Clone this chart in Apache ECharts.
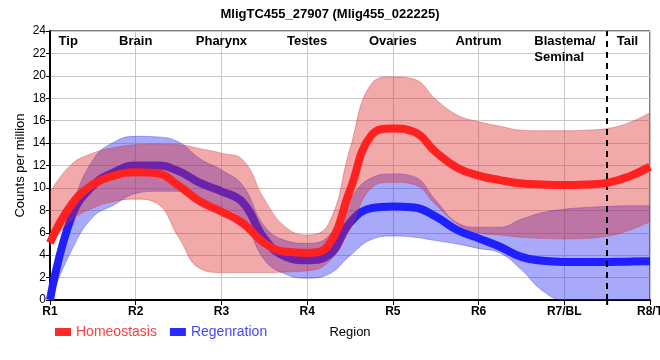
<!DOCTYPE html>
<html><head><meta charset="utf-8">
<script src="https://cdn.jsdelivr.net/npm/echarts@6/dist/echarts.min.js"></script>
<style>html,body{margin:0;padding:0;background:#fff}#c{width:660px;height:360px}</style>
</head><body><div id="c"></div>
<script>
// Region tick labels (shown at positions 1..8)
const regionTicks = ['R1', 'R2', 'R3', 'R4', 'R5', 'R6', 'R7/BL', 'R8/T'];
// Anatomical region names shown at the top of the plot
const regionNames = ['Tip', 'Brain', 'Pharynx', 'Testes', 'Ovaries', 'Antrum', 'Blastema/\nSeminal', 'Tail'];
const regionNameAt = ['1.25', '2', '3', '4', '5', '6', '7', '7.75'];
const boundaryAt = '7.5';

// Sample positions along the body axis (region index)
const xPos = ['1', '1.25', '1.5', '1.75', '2', '2.25', '2.5', '2.75', '3', '3.25', '3.5', '3.75', '4', '4.25', '4.5', '4.75', '5', '5.25', '5.5', '5.75', '6', '6.25', '6.5', '6.75', '7', '7.25', '7.5', '7.75', '8'];

// Homeostasis (counts per million)
const homeoMean  = [5.1, 8.5, 10.3, 11.1, 11.4, 11.3, 10.2, 8.8, 7.9, 6.85, 5.1, 4.3, 4.2, 4.9, 9.8, 14.7, 15.3, 15.0, 13.2, 11.8, 11.1, 10.7, 10.4, 10.3, 10.25, 10.3, 10.45, 11.0, 11.9];
const homeoUpper = [9.6, 12.1, 13.1, 13.6, 13.85, 13.9, 13.85, 13.5, 13.1, 12.5, 9.0, 6.5, 5.8, 6.8, 13.5, 19.3, 19.9, 19.7, 17.9, 16.5, 15.9, 15.5, 15.15, 15.1, 15.1, 15.15, 15.3, 15.8, 16.7];
const homeoLower = [4.9, 7.1, 8.2, 8.8, 9.0, 8.6, 5.6, 2.8, 2.45, 2.45, 2.45, 2.5, 2.6, 3.4, 6.3, 10.0, 10.5, 10.3, 8.5, 6.8, 6.0, 5.8, 5.6, 5.5, 5.45, 5.5, 5.7, 6.2, 7.0];

// Regeneration (counts per million)
const regenMean  = [0, 7.4, 10.2, 11.4, 12.0, 12.0, 11.5, 10.45, 9.7, 8.7, 5.5, 3.85, 3.55, 4.0, 6.9, 8.2, 8.35, 8.25, 7.45, 6.25, 5.5, 4.75, 3.85, 3.5, 3.4, 3.4, 3.4, 3.42, 3.45];
const regenUpper = [0.5, 8.0, 12.5, 14.1, 14.6, 14.55, 14.1, 12.6, 11.6, 10.2, 6.6, 5.3, 5.05, 5.7, 9.0, 10.9, 11.25, 11.0, 8.9, 6.9, 6.5, 6.5, 7.2, 7.8, 8.1, 8.25, 8.35, 8.4, 8.4];
const regenLower = [0, 4.4, 7.4, 8.5, 9.5, 9.7, 9.7, 9.1, 8.35, 7.2, 3.6, 2.3, 1.95, 2.3, 3.95, 5.4, 5.7, 5.6, 5.3, 5.0, 4.6, 4.2, 2.7, 0.8, 0, 0, 0, 0, 0];

const FONT = 'Liberation Sans, Arial, sans-serif';
const diff = (a, b) => a.map((v, i) => +(v - b[i]).toFixed(3));

const SM = 0.45;
function bandSeries(name, lower, upper, fill, edge, z) {
  return [
    { name: name + 'Low', type: 'line', stack: name, data: lower, smooth: SM, symbol: 'none', z: z,
      lineStyle: { width: 1, color: edge }, silent: true },
    { name: name + 'Band', type: 'line', stack: name, data: diff(upper, lower), smooth: SM, symbol: 'none', z: z,
      lineStyle: { width: 1, color: edge }, areaStyle: { color: fill, opacity: 1 }, silent: true }
  ];
}

const chart = echarts.init(document.getElementById('c'), null, { renderer: 'canvas' });
chart.setOption({
  animation: false,
  title: { text: 'MligTC455_27907 (Mlig455_022225)', left: 'center', top: 3,
    textStyle: { fontFamily: FONT, fontSize: 13, fontWeight: 'bold', color: '#000' } },
  grid: { left: 50, right: 10, top: 31, bottom: 60, show: true, borderColor: '#000', borderWidth: 1,
    containLabel: false, outerBoundsMode: 'none' },
  legend: {
    left: 55, top: 325, padding: 0, itemWidth: 16, itemHeight: 8, itemGap: 13, icon: 'rect',
    textStyle: { fontFamily: FONT, fontSize: 14 },
    data: [
      { name: 'Homeostasis', textStyle: { color: '#ff3d3d' }, itemStyle: { color: '#ff2a2a' } },
      { name: 'Regenration', textStyle: { color: '#4545ff' }, itemStyle: { color: '#2a2aff' } }
    ]
  },
  xAxis: {
    type: 'category', data: xPos, boundaryGap: false,
    name: 'Region', nameLocation: 'middle', nameGap: 26, nameMoveOverlap: false,
    nameTextStyle: { fontFamily: FONT, fontSize: 13, color: '#000' },
    axisLine: { lineStyle: { color: '#000', width: 2 } },
    axisTick: { show: true, interval: 3, length: 5, lineStyle: { color: '#000', width: 1 } },
    axisLabel: { interval: 3, fontFamily: FONT, fontSize: 12, fontWeight: 'bold', color: '#000', margin: 6,
      formatter: v => regionTicks[Math.round(+v) - 1] || '' },
    splitLine: { show: true, interval: 3, lineStyle: { color: '#c8c8c8', width: 1 } }
  },
  yAxis: {
    type: 'value', min: 0, max: 24, interval: 2,
    name: 'Counts per million', nameLocation: 'middle', nameGap: 23, nameMoveOverlap: false,
    nameTextStyle: { fontFamily: FONT, fontSize: 13, color: '#000' },
    axisLine: { show: true, lineStyle: { color: '#000', width: 2 } },
    axisTick: { show: true, length: 4, lineStyle: { color: '#000' } },
    axisLabel: { fontFamily: FONT, fontSize: 12, color: '#000', margin: 4 },
    splitLine: { show: true, lineStyle: { color: '#c8c8c8', width: 1 } }
  },
  series: [
    ...bandSeries('regen', regenLower, regenUpper, 'rgba(40,40,240,0.4)', 'rgba(40,40,240,0.35)', 2),
    { name: 'Regenration', type: 'line', data: regenMean, smooth: SM, symbol: 'none', z: 3,
      itemStyle: { color: '#2020ff' }, lineStyle: { width: 8, color: '#2020ff' } },
    ...bandSeries('homeo', homeoLower, homeoUpper, 'rgba(220,40,40,0.4)', 'rgba(210,40,40,0.35)', 4),
    { name: 'Homeostasis', type: 'line', data: homeoMean, smooth: SM, symbol: 'none', z: 5,
      itemStyle: { color: '#ff2020' }, lineStyle: { width: 8, color: '#ff2020' },
      markLine: { silent: true, symbol: ['none', 'none'], label: { show: false },
        lineStyle: { color: '#000', width: 2, type: [6, 5] },
        data: [{ xAxis: boundaryAt }] } }
  ]
});

// Region names along the top, and the small tick at the boundary
const yTop = chart.convertToPixel({ gridIndex: 0 }, ['1', 24])[1];
const yBot = chart.convertToPixel({ gridIndex: 0 }, ['1', 0])[1];
const step = chart.convertToPixel({ gridIndex: 0 }, ['1.25', 0])[0] - chart.convertToPixel({ gridIndex: 0 }, ['1', 0])[0];
const graphics = regionNames.map((t, i) => {
  let px = chart.convertToPixel({ gridIndex: 0 }, [regionNameAt[i], 24])[0];
  const multi = t.indexOf('\n') >= 0;
  if (i === 0) px -= step * 0.15;
  if (i === regionNames.length - 1) px -= step * 0.05;
  return { type: 'text', z: 100,
    x: multi ? px - 30 : px, y: yTop + 2,
    style: { text: t, fill: '#000', font: 'bold 13px ' + FONT,
      textAlign: multi ? 'left' : 'center', textVerticalAlign: 'top', lineHeight: 16 } };
});
const bx = chart.convertToPixel({ gridIndex: 0 }, [boundaryAt, 0])[0];
graphics.push({ type: 'line', z: 100, shape: { x1: bx, y1: yBot, x2: bx, y2: yBot + 5 },
  style: { stroke: '#000', lineWidth: 2 } });
chart.setOption({ graphic: graphics });
</script>
</body></html>
